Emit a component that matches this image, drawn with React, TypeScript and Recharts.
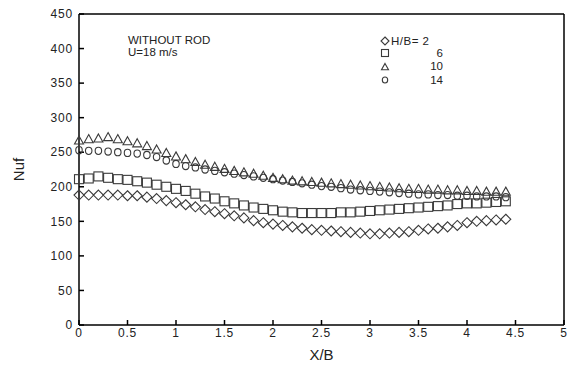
import React from "react";
import {
  ScatterChart,
  Scatter,
  XAxis,
  YAxis,
  ReferenceLine,
} from "recharts";

const xb = [
  0, 0.1, 0.2, 0.3, 0.4, 0.5, 0.6, 0.7, 0.8, 0.9, 1.0, 1.1, 1.2, 1.3, 1.4, 1.5,
  1.6, 1.7, 1.8, 1.9, 2.0, 2.1, 2.2, 2.3, 2.4, 2.5, 2.6, 2.7, 2.8, 2.9, 3.0,
  3.1, 3.2, 3.3, 3.4, 3.5, 3.6, 3.7, 3.8, 3.9, 4.0, 4.1, 4.2, 4.3, 4.4,
];

// H/B = 2
const hb2 = [
  188, 188, 188, 188, 188, 187, 187, 185, 183, 180, 177, 174, 171, 167, 164,
  161, 158, 155, 151, 148, 146, 144, 142, 140, 138, 137, 136, 135, 134, 133,
  132, 132, 133, 134, 135, 137, 139, 140, 142, 144, 148, 150, 151, 152, 153,
];
// H/B = 6
const hb6 = [
  211, 212, 215, 213, 211, 210, 208, 206, 203, 200, 197, 194, 190, 186, 183,
  179, 176, 173, 170, 168, 166, 164, 163, 162, 162, 162, 162, 163, 163, 164,
  165, 166, 167, 168, 169, 170, 171, 172, 173, 175, 176, 176, 177, 178, 179,
];
// H/B = 10
const hb10 = [
  267, 269, 270, 272, 269, 266, 263, 259, 254, 249, 244, 240, 236, 232, 229,
  226, 223, 221, 219, 216, 213, 211, 209, 208, 207, 206, 205, 204, 203, 202,
  201, 200, 199, 198, 197, 197, 196, 196, 195, 195, 194, 194, 193, 193, 193,
];
// H/B = 14
const hb14 = [
  253, 252, 252, 251, 250, 249, 248, 246, 243, 238, 233, 230, 228, 225, 223,
  221, 219, 217, 215, 213, 211, 209, 207, 205, 203, 201, 200, 198, 196, 195,
  194, 193, 192, 191, 190, 189, 189, 188, 188, 187, 187, 186, 186, 186, 185,
];

const xTicks = [0, 0.5, 1, 1.5, 2, 2.5, 3, 3.5, 4, 4.5, 5];
const yTicks = [0, 50, 100, 150, 200, 250, 300, 350, 400, 450];

const toPoints = (ys: number[]) => ys.map((y, i) => ({ x: xb[i], y }));

const mk = "#3a3a3a";
const font = "'Liberation Sans', Arial, sans-serif";

const Diamond = ({ cx, cy, r = 5 }: any) => (
  <polygon
    points={`${cx},${cy - r} ${cx + r},${cy} ${cx},${cy + r} ${cx - r},${cy}`}
    fill="none"
    stroke={mk}
    strokeWidth={1.1}
  />
);
const Square = ({ cx, cy, r = 4.5 }: any) => (
  <rect
    x={cx - r}
    y={cy - r}
    width={r * 2}
    height={r * 2}
    fill="none"
    stroke={mk}
    strokeWidth={1.1}
  />
);
const Triangle = ({ cx, cy, r = 4.5 }: any) => (
  <polygon
    points={`${cx},${cy - r} ${cx + r},${cy + r * 0.8} ${cx - r},${cy + r * 0.8}`}
    fill="none"
    stroke={mk}
    strokeWidth={1.1}
  />
);
const Circle = ({ cx, cy, r = 3.6 }: any) => (
  <ellipse
    cx={cx}
    cy={cy}
    rx={r * 0.9}
    ry={r}
    fill="none"
    stroke={mk}
    strokeWidth={1.1}
  />
);

const tickStyle = { fontSize: 12, fill: "#222", fontFamily: font, letterSpacing: 0.8 };

export default function App() {
  return (
    <div style={{ position: "absolute", left: 0, top: 0, width: 574, height: 368, background: "#fff" }}>
      <ScatterChart
        width={574}
        height={368}
        margin={{ top: 14, right: 10, left: 10, bottom: 8 }}
      >
        <XAxis
          type="number"
          dataKey="x"
          domain={[0, 5]}
          ticks={xTicks}
          interval={0}
          height={35}
          tickSize={-5}
          tickMargin={8}
          tick={tickStyle}
          stroke="#000"
          strokeWidth={1.5}
          label={{
            value: "X/B",
            position: "insideBottom",
            offset: 0,
            style: { fontSize: 15, fill: "#222", fontFamily: font },
          }}
        />
        <YAxis
          type="number"
          dataKey="y"
          domain={[0, 450]}
          ticks={yTicks}
          interval={0}
          width={69}
          tickSize={-5}
          tickMargin={11}
          tick={tickStyle}
          stroke="#000"
          strokeWidth={1.5}
          label={{
            value: "Nuf",
            angle: -90,
            position: "insideLeft",
            offset: 9,
            style: { fontSize: 15, fill: "#222", fontFamily: font, textAnchor: "middle" },
          }}
        />
        <ReferenceLine x={5} stroke="#000" strokeWidth={1.5} />
        <ReferenceLine y={450} stroke="#000" strokeWidth={1.5} />
        <Scatter data={toPoints(hb2)} shape={<Diamond />} isAnimationActive={false} />
        <Scatter data={toPoints(hb6)} shape={<Square />} isAnimationActive={false} />
        <Scatter data={toPoints(hb10)} shape={<Triangle />} isAnimationActive={false} />
        <Scatter data={toPoints(hb14)} shape={<Circle />} isAnimationActive={false} />
      </ScatterChart>
      <svg
        width={574}
        height={368}
        style={{ position: "absolute", left: 0, top: 0, pointerEvents: "none" }}
      >
        <g fontFamily={font} fontSize={11.5} fill="#222">
          <text x={128} y={44}>WITHOUT ROD</text>
          <text x={128} y={56}>U=18 m/s</text>
          <text x={391} y={45} letterSpacing={0.5}>H/B= 2</text>
          <text x={443} y={57} textAnchor="end">6</text>
          <text x={443} y={70} textAnchor="end">10</text>
          <text x={443} y={84} textAnchor="end">14</text>
        </g>
        <Diamond cx={385} cy={41} r={4} />
        <Square cx={385} cy={53} r={3.5} />
        <Triangle cx={385} cy={67} r={3.5} />
        <Circle cx={385} cy={80} r={3} />
      </svg>
    </div>
  );
}
